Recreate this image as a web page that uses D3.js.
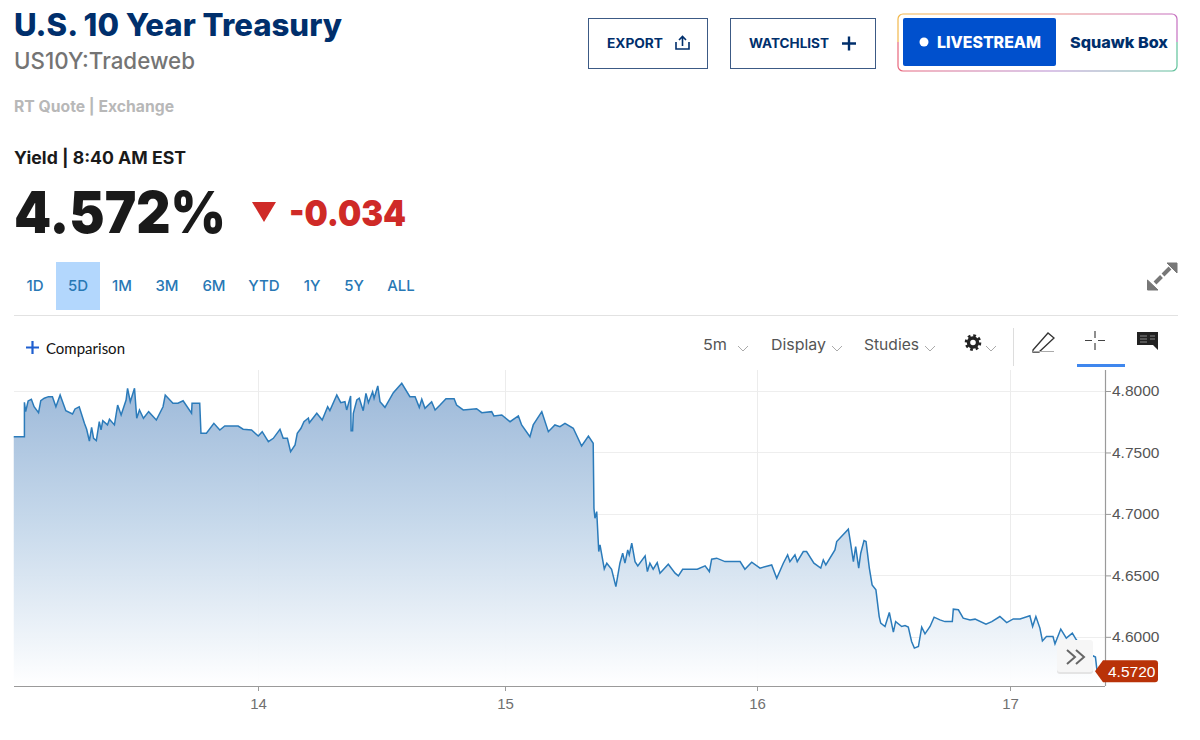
<!DOCTYPE html>
<html>
<head>
<meta charset="utf-8">
<script src="https://cdn.jsdelivr.net/npm/d3@7"></script>
<style>
html, body { margin: 0; padding: 0; background: #fff; }
svg { display: block; }
.hd { font-family: Inter, Lato, sans-serif; }
.lt { font-family: Lato, "Open Sans", sans-serif; }
.ax text, .ax { font-family: "Liberation Sans", Arial, sans-serif; }
</style>
</head>
<body>
<div id="chart"></div>
<script>
var yTicks = [4.6, 4.65, 4.7, 4.75, 4.8];
var xTicks = [14, 15, 16, 17];
var lastYield = 4.572;
var ranges = ['1D', '5D', '1M', '3M', '6M', 'YTD', '1Y', '5Y', 'ALL'];

// day of the month
var days = [
    13.015, 13.058, 13.058, 13.063, 13.073, 13.086, 13.097, 13.115, 13.124, 13.138,
    13.155, 13.171, 13.185, 13.202, 13.225, 13.252, 13.262, 13.279, 13.300, 13.309,
    13.320, 13.329, 13.337, 13.348, 13.360, 13.367, 13.374, 13.393, 13.401, 13.421,
    13.434, 13.448, 13.468, 13.474, 13.485, 13.502, 13.511, 13.522, 13.538, 13.559,
    13.590, 13.617, 13.626, 13.657, 13.677, 13.698, 13.732, 13.734, 13.765, 13.770,
    13.792, 13.822, 13.846, 13.866, 13.920, 13.940, 13.974, 14.001, 14.017, 14.042,
    14.062, 14.089, 14.102, 14.119, 14.132, 14.150, 14.159, 14.174, 14.186, 14.204,
    14.208, 14.238, 14.260, 14.282, 14.291, 14.319, 14.335, 14.352, 14.359, 14.375,
    14.377, 14.383, 14.386, 14.400, 14.410, 14.426, 14.437, 14.447, 14.464, 14.470,
    14.485, 14.494, 14.514, 14.548, 14.582, 14.615, 14.636, 14.653, 14.663, 14.676,
    14.703, 14.717, 14.737, 14.761, 14.794, 14.804, 14.831, 14.885, 14.906, 14.946,
    14.955, 14.987, 15.020, 15.053, 15.066, 15.099, 15.112, 15.146, 15.172, 15.198,
    15.218, 15.238, 15.271, 15.304, 15.331, 15.350, 15.353, 15.357, 15.364, 15.372,
    15.377, 15.394, 15.404, 15.423, 15.440, 15.456, 15.467, 15.476, 15.487, 15.493,
    15.503, 15.516, 15.527, 15.556, 15.565, 15.575, 15.588, 15.604, 15.615, 15.648,
    15.675, 15.688, 15.705, 15.763, 15.794, 15.811, 15.820, 15.840, 15.873, 15.933,
    15.952, 15.979, 16.012, 16.058, 16.078, 16.104, 16.121, 16.130, 16.150, 16.159,
    16.183, 16.196, 16.225, 16.252, 16.262, 16.272, 16.308, 16.315, 16.361, 16.370,
    16.381, 16.390, 16.402, 16.410, 16.423, 16.431, 16.444, 16.455, 16.470, 16.483,
    16.489, 16.506, 16.523, 16.539, 16.548, 16.572, 16.585, 16.598, 16.611, 16.622,
    16.638, 16.651, 16.664, 16.684, 16.700, 16.723, 16.743, 16.772, 16.776, 16.796,
    16.815, 16.842, 16.862, 16.905, 16.928, 16.960, 16.987, 17.013, 17.040, 17.079,
    17.090, 17.103, 17.119, 17.129, 17.145, 17.171, 17.179, 17.202, 17.224, 17.248,
    17.264, 17.296, 17.329, 17.340, 17.345, 17.348
];

var yields = [
    4.7628, 4.7628, 4.7908, 4.7832, 4.7919, 4.7933, 4.7872, 4.7824, 4.7921, 4.7941,
    4.7954, 4.7954, 4.7872, 4.7967, 4.7840, 4.7813, 4.7854, 4.7872, 4.7737, 4.7689,
    4.7593, 4.7705, 4.7615, 4.7596, 4.7750, 4.7683, 4.7759, 4.7724, 4.7770, 4.7724,
    4.7886, 4.7805, 4.7927, 4.8022, 4.7913, 4.8022, 4.7778, 4.7846, 4.7778, 4.7832,
    4.7764, 4.7872, 4.7967, 4.7900, 4.7900, 4.7921, 4.7819, 4.7900, 4.7900, 4.7656,
    4.7656, 4.7737, 4.7683, 4.7715, 4.7715, 4.7689, 4.7683, 4.7634, 4.7669, 4.7588,
    4.7615, 4.7689, 4.7615, 4.7615, 4.7507, 4.7561, 4.7656, 4.7697, 4.7750, 4.7780,
    4.7742, 4.7819, 4.7764, 4.7872, 4.7840, 4.7967, 4.7905, 4.7913, 4.7846, 4.7959,
    4.7677, 4.7677, 4.7819, 4.7927, 4.7941, 4.7840, 4.7981, 4.7905, 4.7994, 4.7941,
    4.8041, 4.7913, 4.7867, 4.7986, 4.8063, 4.7954, 4.7954, 4.7867, 4.7933, 4.7859,
    4.7913, 4.7846, 4.7886, 4.7937, 4.7937, 4.7886, 4.7846, 4.7856, 4.7824, 4.7832,
    4.7797, 4.7805, 4.7750, 4.7797, 4.7724, 4.7628, 4.7724, 4.7832, 4.7669, 4.7724,
    4.7710, 4.7737, 4.7697, 4.7553, 4.7634, 4.7575, 4.7046, 4.6965, 4.7019, 4.6694,
    4.6748, 4.6553, 4.6599, 4.6550, 4.6409, 4.6599, 4.6680, 4.6599, 4.6707, 4.6667,
    4.6762, 4.6612, 4.6577, 4.6659, 4.6531, 4.6599, 4.6550, 4.6604, 4.6518, 4.6591,
    4.6518, 4.6496, 4.6550, 4.6550, 4.6577, 4.6531, 4.6632, 4.6640, 4.6612, 4.6612,
    4.6550, 4.6607, 4.6559, 4.6585, 4.6477, 4.6599, 4.6667, 4.6612, 4.6667, 4.6612,
    4.6694, 4.6694, 4.6599, 4.6559, 4.6626, 4.6585, 4.6707, 4.6775, 4.6876, 4.6762,
    4.6612, 4.6734, 4.6559, 4.6680, 4.6783, 4.6775, 4.6559, 4.6423, 4.6382, 4.6165,
    4.6111, 4.6084, 4.6198, 4.6038, 4.6124, 4.6084, 4.6092, 4.6079, 4.5962, 4.5908,
    4.5921, 4.6079, 4.6024, 4.6084, 4.6160, 4.6138, 4.6124, 4.6124, 4.6225, 4.6220,
    4.6152, 4.6138, 4.6144, 4.6103, 4.6124, 4.6165, 4.6116, 4.6146, 4.6146, 4.6171,
    4.6084, 4.6165, 4.6071, 4.5967, 4.6002, 4.6002, 4.5943, 4.6063, 4.5989, 4.6030,
    4.5976, 4.5894, 4.5846, 4.5835, 4.5746, 4.5720
];

var points = days.map(function (d, i) {
    return {day: d, value: yields[i]};
});

var width = 1200,
    height = 740,
    left = 14,
    right = 1105,
    top_ = 370,
    bottom = 686;

var svg = d3.select('#chart').append('svg')
    .attr('width', width)
    .attr('height', height);

var x = d3.scaleLinear().domain([13.016, 14, 15, 16, 17, 17.378]).range([left, 258, 505, 757, 1010, right]);
var y = d3.scaleLinear().domain([4.56, 4.8]).range([bottom, 391]);

var defs = svg.append('defs');
var fade = defs.append('linearGradient').attr('id', 'fade')
    .attr('gradientUnits', 'userSpaceOnUse')
    .attr('x1', 0).attr('x2', 0).attr('y1', 385).attr('y2', bottom);
fade.append('stop').attr('offset', 0).attr('stop-color', '#9ab7d8');
fade.append('stop').attr('offset', 0.45).attr('stop-color', '#c4d7ea');
fade.append('stop').attr('offset', 1).attr('stop-color', '#ffffff');

var rimTop = defs.append('linearGradient').attr('id', 'rimTop');
rimTop.append('stop').attr('offset', 0).attr('stop-color', '#f2b84b');
rimTop.append('stop').attr('offset', 0.5).attr('stop-color', '#ee8f7c');
rimTop.append('stop').attr('offset', 1).attr('stop-color', '#c56fc0');
var rimBot = defs.append('linearGradient').attr('id', 'rimBot');
rimBot.append('stop').attr('offset', 0).attr('stop-color', '#e8667c');
rimBot.append('stop').attr('offset', 0.55).attr('stop-color', '#b58ad0');
rimBot.append('stop').attr('offset', 1).attr('stop-color', '#5fc29a');

// header text
function label(txt, px, py, size, weight, color, anchor, cls) {
    return svg.append('text')
        .attr('class', cls || 'hd')
        .attr('x', px).attr('y', py)
        .attr('font-size', size)
        .attr('font-weight', weight)
        .attr('fill', color)
        .attr('text-anchor', anchor || 'start')
        .text(txt);
}

label('U.S. 10 Year Treasury', 14, 36, 31, 800, '#002f6c').attr('textLength', 328).attr('lengthAdjust', 'spacingAndGlyphs');
label('US10Y:Tradeweb', 14, 69, 23, 500, '#747474').attr('textLength', 181).attr('lengthAdjust', 'spacingAndGlyphs');
label('RT Quote | Exchange', 14, 112, 15.5, 700, '#b8b8b8').attr('textLength', 160).attr('lengthAdjust', 'spacingAndGlyphs');
label('Yield | 8:40 AM EST', 14, 164, 17, 700, '#1a1a1a').attr('textLength', 172).attr('lengthAdjust', 'spacingAndGlyphs');
label('4.572%', 14, 233, 58, 900, '#1a1a1a').attr('textLength', 212).attr('lengthAdjust', 'spacingAndGlyphs');
label('-0.034', 289, 226, 36, 900, '#cf2a27').attr('textLength', 117).attr('lengthAdjust', 'spacingAndGlyphs');
svg.append('path').attr('d', 'M252,202H276L264,222Z').attr('fill', '#cf2a27');

// buttons
svg.append('rect').attr('x', 588.5).attr('y', 18.5).attr('width', 119).attr('height', 50)
    .attr('fill', '#fff').attr('stroke', '#3c5a85');
svg.append('rect').attr('x', 730.5).attr('y', 18.5).attr('width', 145).attr('height', 50)
    .attr('fill', '#fff').attr('stroke', '#3c5a85');
label('EXPORT', 607, 48, 13, 700, '#002f6c').attr('textLength', 56).attr('lengthAdjust', 'spacingAndGlyphs');
label('WATCHLIST', 749, 48, 13, 700, '#002f6c').attr('textLength', 80).attr('lengthAdjust', 'spacingAndGlyphs');
svg.append('path').attr('d', 'M676,42V49H689V42M682.5,46V37M679,40L682.5,36.5L686,40')
    .attr('fill', 'none').attr('stroke', '#002f6c').attr('stroke-width', 1.6);
svg.append('path').attr('d', 'M842,43.5H856M849,36.5V50.5')
    .attr('fill', 'none').attr('stroke', '#002f6c').attr('stroke-width', 2.4);

svg.append('path').attr('d', 'M898,42V19a5,5 0 0 1 5,-5H1172a5,5 0 0 1 5,5V42')
    .attr('fill', 'none').attr('stroke', 'url(#rimTop)').attr('stroke-width', 1.2);
svg.append('path').attr('d', 'M898,42V66a5,5 0 0 0 5,5H1172a5,5 0 0 0 5,-5V42')
    .attr('fill', 'none').attr('stroke', 'url(#rimBot)').attr('stroke-width', 1.2);
svg.append('rect').attr('x', 903).attr('y', 18).attr('width', 153).attr('height', 48).attr('rx', 2).attr('fill', '#0050cd');
svg.append('circle').attr('cx', 924).attr('cy', 42).attr('r', 4.5).attr('fill', '#fff');
label('LIVESTREAM', 937, 48, 16, 800, '#fff').attr('textLength', 104).attr('lengthAdjust', 'spacingAndGlyphs');
label('Squawk Box', 1070, 48, 15, 800, '#002f6c').attr('textLength', 98).attr('lengthAdjust', 'spacingAndGlyphs');

// range buttons
var rangeX = [35, 78, 122, 167, 214, 264, 312, 354, 401];
svg.append('rect').attr('x', 56).attr('y', 262).attr('width', 44).attr('height', 48).attr('fill', '#b3d7fd');
ranges.forEach(function (r, i) {
    label(r, rangeX[i], 291, 15, 500, '#2878b5', 'middle');
});
svg.append('line').attr('x1', 14).attr('x2', 1178).attr('y1', 315.5).attr('y2', 315.5).attr('stroke', '#e2e2e2');

// expand icon
svg.append('path')
    .attr('d', 'M1155,283L1161.5,276.5M1163,275L1170,268')
    .attr('fill', 'none').attr('stroke', '#777').attr('stroke-width', 4);
svg.append('path').attr('d', 'M1177,263V273L1167,263ZM1147.5,290V280L1158,290Z').attr('fill', '#777').attr('stroke', '#777');

// toolbar
svg.append('path').attr('d', 'M26,347.5H39M32.5,341V354').attr('stroke', '#1f5fd0').attr('stroke-width', 2.2);
label('Comparison', 46, 354, 14.5, 400, '#111', 'start', 'lt').attr('textLength', 79).attr('lengthAdjust', 'spacingAndGlyphs');
label('5m', 703, 350, 15, 400, '#555').attr('textLength', 24).attr('lengthAdjust', 'spacingAndGlyphs');
label('Display', 771, 350, 15, 400, '#555').attr('textLength', 55).attr('lengthAdjust', 'spacingAndGlyphs');
label('Studies', 864, 350, 15, 400, '#555').attr('textLength', 55).attr('lengthAdjust', 'spacingAndGlyphs');
[738, 832, 925, 986].forEach(function (cx) {
    svg.append('path').attr('d', 'M' + cx + ',346l5,5l5,-5').attr('fill', 'none').attr('stroke', '#aaa');
});
// gear
svg.append('circle').attr('cx', 973).attr('cy', 342.5).attr('r', 4.5)
    .attr('fill', 'none').attr('stroke', '#222').attr('stroke-width', 3.4);
svg.append('circle').attr('cx', 973).attr('cy', 342.5).attr('r', 7)
    .attr('fill', 'none').attr('stroke', '#222').attr('stroke-width', 2.6).attr('stroke-dasharray', '2.75 2.75');
svg.append('line').attr('x1', 1013.5).attr('x2', 1013.5).attr('y1', 328).attr('y2', 366).attr('stroke', '#ddd');
svg.append('path').attr('d', 'M1033,350L1048,333L1054,338L1039,352L1033,352ZM1033,352')
    .attr('fill', 'none').attr('stroke', '#333').attr('stroke-width', 1.3);
svg.append('line').attr('x1', 1033).attr('x2', 1054).attr('y1', 351.5).attr('y2', 351.5).attr('stroke', '#aaa');
svg.append('path').attr('d', 'M1095,331V338M1095,343V350M1085,340.5H1092M1098,340.5H1105')
    .attr('stroke', '#444').attr('stroke-width', 1.2);
svg.append('rect').attr('x', 1077).attr('y', 364).attr('width', 48).attr('height', 3).attr('fill', '#3f87ee');
svg.append('path').attr('d', 'M1137,332H1158V350L1153,345H1137Z').attr('fill', '#222');
svg.append('path').attr('d', 'M1140,336H1147M1140,339H1147M1140,342H1147M1150,336H1155M1150,339H1155')
    .attr('stroke', '#888').attr('stroke-width', 1);

// grid, under the area
svg.append('g').selectAll('line').data(yTicks).enter().append('line')
    .attr('x1', left).attr('x2', right)
    .attr('y1', function (d) { return Math.round(y(d)) + 0.5; })
    .attr('y2', function (d) { return Math.round(y(d)) + 0.5; })
    .attr('stroke', '#eeeeee');
svg.append('g').selectAll('line').data(xTicks).enter().append('line')
    .attr('x1', function (d) { return Math.round(x(d)) + 0.5; })
    .attr('x2', function (d) { return Math.round(x(d)) + 0.5; })
    .attr('y1', top_).attr('y2', bottom)
    .attr('stroke', '#ececec');

// area and line
var area = d3.area()
    .x(function (d) { return x(d.day); })
    .y0(bottom)
    .y1(function (d) { return y(d.value); });
var line = d3.line()
    .x(function (d) { return x(d.day); })
    .y(function (d) { return y(d.value); });

svg.append('path').datum(points).attr('d', area).attr('fill', 'url(#fade)').attr('fill-opacity', 0.97);
svg.append('path').datum(points).attr('d', line)
    .attr('fill', 'none').attr('stroke', '#2b7bba').attr('stroke-width', 1.5);

// axes
var xAxis = d3.axisBottom(x).tickValues(xTicks).tickSize(5).tickSizeOuter(0).tickFormat(d3.format('d'));
var yAxis = d3.axisRight(y).tickValues(yTicks).tickSize(6).tickSizeOuter(0).tickFormat(d3.format('.4f'));

var gx = svg.append('g').attr('class', 'ax').attr('transform', 'translate(0,' + bottom + ')').call(xAxis);
var gy = svg.append('g').attr('class', 'ax').attr('transform', 'translate(' + right + ',0)').call(yAxis);
gx.select('.domain').attr('stroke', '#9a9a9a').attr('stroke-width', 1.2).attr('d', 'M' + left + ',0.5H' + right);
gy.select('.domain').attr('stroke', '#9a9a9a').attr('stroke-width', 1.2).attr('d', 'M0.5,' + top_ + 'V' + bottom);
gx.selectAll('.tick line').attr('stroke', '#9a9a9a');
gy.selectAll('.tick line').attr('stroke', '#9a9a9a');
gx.selectAll('text').attr('font-size', 15).attr('fill', '#707070').attr('dy', '1em').attr('y', 8);
gy.selectAll('text').attr('font-size', 15.5).attr('fill', '#555').attr('x', 7);

// pan button sits on top of the line
svg.append('rect').attr('x', 1057).attr('y', 641).attr('width', 36).attr('height', 32).attr('rx', 3)
    .attr('fill', '#e4e4e4').attr('transform', 'translate(0,1)');
svg.append('rect').attr('x', 1057).attr('y', 640).attr('width', 36).attr('height', 32).attr('rx', 3).attr('fill', '#f6f6f6');
svg.append('path').attr('d', 'M1067,650L1075,657L1067,664M1076,650L1084,657L1076,664')
    .attr('fill', 'none').attr('stroke', '#666').attr('stroke-width', 2);

// last price tag
var tagY = y(lastYield);
svg.append('path')
    .attr('d', 'M1095,' + tagY + 'L1103,' + (tagY - 11) + 'H1155a3,3 0 0 1 3,3V' + (tagY + 8) + 'a3,3 0 0 1 -3,3H1103Z')
    .attr('fill', '#b93208');
label(d3.format('.4f')(lastYield), 1108, tagY + 5.5, 15.5, 400, '#fff', 'start', 'ax');
</script>
</body>
</html>
